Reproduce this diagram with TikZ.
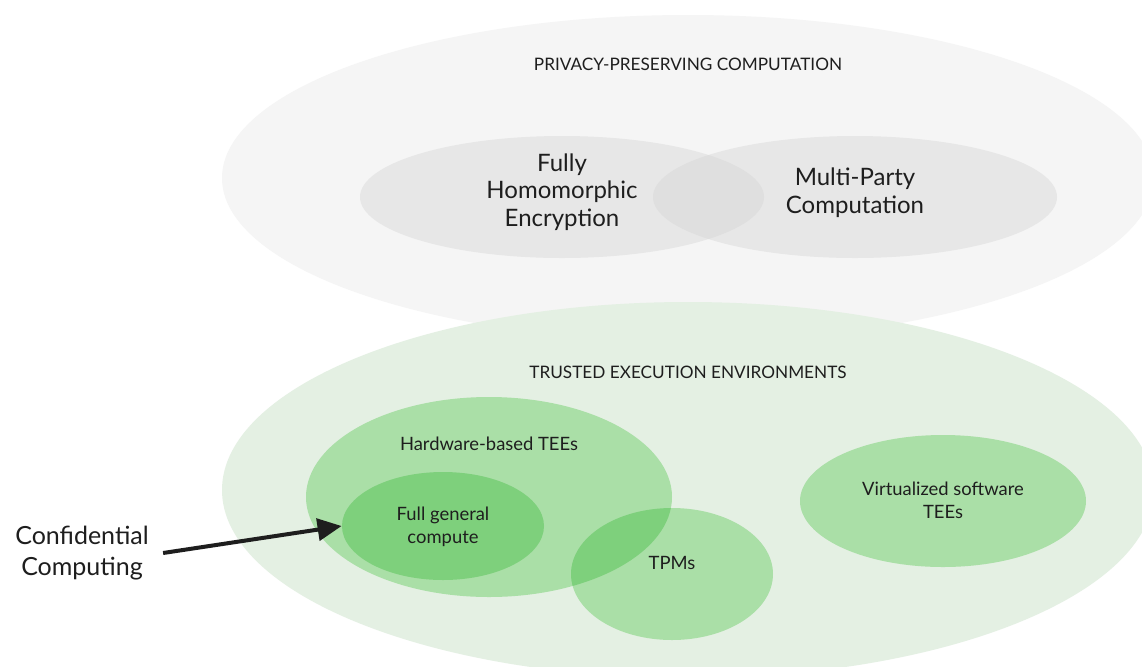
\documentclass[tikz,border=0pt]{standalone}
\usepackage{fontspec}
\setmainfont{Lato}
\usepackage{xcolor}
\usetikzlibrary{arrows.meta,shapes.geometric,positioning}

\definecolor{ppcfill}{HTML}{F5F5F5}
\definecolor{ppcinner}{HTML}{E7E7E7}
\definecolor{ppcboth}{HTML}{DFDFDF}
\definecolor{teefill}{HTML}{E4F0E3}
\definecolor{teemid}{HTML}{AADFA7}
\definecolor{teedeep}{HTML}{7ED07C}
\definecolor{inkdark}{HTML}{1E1E1E}

\begin{document}
\begin{tikzpicture}[x=0.5pt,y=-0.5pt,
	blob/.style={ellipse,inner sep=0pt,draw=none},
	heading/.style={text=inkdark,font=\fontsize{8.6}{10}\selectfont},
	bigtext/.style={text=inkdark,align=center,font=\fontsize{12}{13.8}\selectfont},
	smalltext/.style={text=inkdark,align=center,font=\fontsize{9.2}{11.5}\selectfont}]
	\clip (0,0) rectangle (1142,666);
	\fill[white] (0,0) rectangle (1142,666);
	% privacy-preserving computation
	\node[blob,fill=ppcfill,minimum width=466pt,minimum height=163pt] (ppc) at (688,178) {};
	\node[blob,fill=ppcinner,minimum width=202pt,minimum height=61pt] (fhe) at (562,197) {};
	\node[blob,fill=ppcinner,minimum width=202pt,minimum height=61pt] (mpc) at (855,197) {};
	\begin{scope}
		\clip (562,197) ellipse [x radius=202,y radius=61];
		\fill[ppcboth] (855,197) ellipse [x radius=202,y radius=61];
	\end{scope}
	% trusted execution environments
	\node[blob,fill=teefill,minimum width=466pt,minimum height=188pt] (tee) at (688,490) {};
	\node[blob,fill=teemid,minimum width=183pt,minimum height=100pt] (hw) at (489,497) {};
	\node[blob,fill=teedeep,minimum width=101pt,minimum height=54pt] (fgc) at (443,526) {};
	\node[blob,fill=teemid,minimum width=101pt,minimum height=66pt] (tpm) at (672,574) {};
	\begin{scope}
		\clip (489,497) ellipse [x radius=183,y radius=100];
		\fill[teedeep] (672,574) ellipse [x radius=101,y radius=66];
	\end{scope}
	\node[blob,fill=teemid,minimum width=143pt,minimum height=66pt] (vsw) at (943,501) {};
	% labels
	\node[heading] (ppclabel) at (688,64) {PRIVACY-PRESERVING COMPUTATION};
	\node[bigtext] (fhelabel) at (562,192) {Fully\\Homomorphic\\Encryption};
	\node[bigtext] (mpclabel) at (855,193) {Multi-Party\\Computation};
	\node[heading] (teelabel) at (688,372) {TRUSTED EXECUTION ENVIRONMENTS};
	\node[smalltext] (hwlabel) at (489,444) {Hardware-based TEEs};
	\node[smalltext] (fgclabel) at (443,527) {Full general\\compute};
	\node[smalltext] (tpmlabel) at (672,563) {TPMs};
	\node[smalltext] (vswlabel) at (943,500) {Virtualized software\\TEEs};
	\node[bigtext,font=\fontsize{12.5}{15.5}\selectfont,inner sep=7pt] (cc) at (82,553) {Confidential\\Computing};
	\draw[line width=2pt,-{Triangle[length=12pt,width=11pt]},inkdark] (cc.east) -- (fgc.west);
\end{tikzpicture}
\end{document}
